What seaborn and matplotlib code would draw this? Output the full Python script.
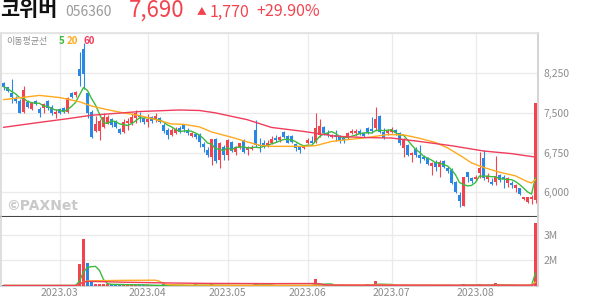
import numpy as np
import pandas as pd
import matplotlib
matplotlib.use("Agg")
import matplotlib.pyplot as plt
import seaborn as sns

# ---------------- data ----------------
opens = [8070, 7980, 7870, 7790, 7730, 7520, 7710, 7565, 7730, 7565,
         7585, 7720, 7615, 7480, 7565, 7585, 7525, 7870, 7835, 8330,
         8700, 7880, 7520, 7165, 7155, 7240, 7300, 7380, 7335, 7190,
         7145, 7300, 7300, 7395, 7460, 7395, 7335, 7430, 7365, 7395,
         7270, 7175, 7080, 7125, 7215, 7265, 7175, 7065, 7100, 7080,
         6905, 6800, 6670, 7005, 6610, 6860, 6705, 6955, 6765, 6850,
         6985, 6800, 6810, 7175, 6890, 6925, 6875, 6935, 7020, 6985,
         7145, 7065, 7065, 6910, 6850, 6830, 6935, 6975, 6955, 7080,
         7240, 7125, 7035, 7080, 7065, 7020, 7035, 7125, 7125, 7150,
         7115, 7210, 7190, 7210, 7440, 7145, 7115, 7145, 7175, 7115,
         6830, 6890, 6705, 6810, 6705, 6670, 6655, 6495, 6580, 6470,
         6590, 6450, 6420, 6200, 5950, 5745, 6375, 6265, 6255, 6355,
         6640, 6245, 6200, 6200, 6325, 6295, 6180, 6180, 6075, 6075,
         5865, 5820, 5865, 5850]
highs = [8090, 7995, 8140, 7820, 7755, 8010, 7745, 7710, 7745, 7615,
         7695, 7745, 7650, 7565, 7585, 7605, 7795, 7890, 7920, 8655,
         8815, 7900, 7555, 7450, 7380, 7490, 7460, 7395, 7365, 7210,
         7380, 7395, 7490, 7555, 7525, 7430, 7480, 7440, 7490, 7415,
         7300, 7210, 7210, 7240, 7250, 7290, 7210, 7145, 7125, 7115,
         6955, 6850, 7005, 7020, 6955, 6890, 7005, 6970, 6875, 6935,
         7000, 6875, 6890, 7365, 7020, 6985, 6985, 7065, 7080, 7065,
         7155, 7075, 7075, 6925, 6860, 6890, 7020, 7065, 7505, 7380,
         7250, 7175, 7100, 7175, 7080, 7050, 7145, 7190, 7190, 7190,
         7145, 7240, 7430, 7605, 7460, 7210, 7190, 7225, 7190, 7145,
         7020, 6905, 6765, 6850, 6890, 6705, 6670, 6575, 6610, 6610,
         6610, 6495, 6450, 6215, 6010, 6295, 6390, 6295, 6325, 6765,
         6800, 6370, 6265, 6685, 6345, 6325, 6295, 6220, 6155, 6090,
         5915, 5915, 5950, 7690]
lows = [7930, 7900, 7680, 7690, 7490, 7505, 7600, 7555, 7650, 7430,
        7505, 7555, 7460, 7395, 7470, 7505, 7505, 7775, 7805, 8000,
        7950, 7400, 7020, 7145, 6985, 7210, 7290, 7240, 7210, 7100,
        7125, 7175, 7270, 7300, 7335, 7290, 7240, 7315, 7335, 7300,
        7125, 7000, 7065, 7100, 7125, 7145, 7080, 7035, 7000, 6860,
        6765, 6670, 6515, 6545, 6450, 6610, 6610, 6765, 6705, 6810,
        6735, 6705, 6800, 6860, 6765, 6830, 6850, 6910, 6955, 6955,
        7020, 6925, 6925, 6785, 6750, 6810, 6910, 6925, 6925, 7035,
        7080, 7035, 7020, 6975, 6925, 6935, 7015, 7100, 7060, 7080,
        7050, 7100, 7126, 7175, 7120, 7000, 7080, 7115, 7080, 6890,
        6670, 6685, 6580, 6670, 6545, 6610, 6515, 6325, 6405, 6295,
        6450, 6355, 6155, 5990, 5715, 5745, 6200, 6170, 6220, 6265,
        6230, 6200, 6135, 6135, 6200, 6090, 6105, 6075, 6010, 5945,
        5855, 5790, 5780, 5800]
closes = [7995, 7920, 7805, 7725, 7505, 7930, 7615, 7695, 7665, 7505,
          7665, 7590, 7490, 7525, 7490, 7525, 7775, 7795, 7900, 8200,
          8230, 7490, 7040, 7285, 7345, 7415, 7415, 7270, 7240, 7125,
          7335, 7345, 7430, 7505, 7415, 7320, 7380, 7345, 7440, 7335,
          7155, 7080, 7175, 7195, 7145, 7190, 7115, 7115, 7035, 6955,
          6850, 6705, 7005, 6595, 6925, 6705, 6985, 6785, 6850, 6925,
          6765, 6850, 6830, 6890, 6875, 6890, 6925, 7005, 6985, 7035,
          7035, 6935, 6955, 6830, 6800, 6875, 6985, 6935, 7210, 7250,
          7125, 7080, 7065, 7035, 6985, 6985, 7115, 7165, 7160, 7105,
          7060, 7125, 7150, 7380, 7145, 7020, 7165, 7195, 7115, 6925,
          7000, 6705, 6735, 6705, 6640, 6620, 6535, 6545, 6470, 6580,
          6485, 6405, 6180, 6010, 5840, 6295, 6280, 6220, 6295, 6450,
          6265, 6305, 6155, 6305, 6240, 6245, 6265, 6135, 6135, 5960,
          5905, 5905, 5920, 7690]
volumes_m = [1.02] * 134
for _i, _v in {19: 1.86, 20: 2.83, 21: 1.88, 22: 1.17, 23: 1.07, 24: 1.07,
               25: 1.07, 26: 1.06, 27: 1.06, 28: 1.05, 29: 1.05, 30: 1.05,
               31: 1.05, 32: 1.05, 33: 1.05, 34: 1.04, 35: 1.04, 40: 1.06,
               41: 1.05, 48: 1.07, 52: 1.06, 63: 1.12, 78: 1.27, 81: 1.06,
               91: 1.06, 93: 1.20, 94: 1.05, 114: 1.05, 115: 1.06,
               119: 1.06, 120: 1.05, 123: 1.10, 133: 3.44}.items():
    volumes_m[_i] = _v
volumes = [v * 1e6 for v in volumes_m]

# moving averages that start before the visible window
ma20_idx = [0, 9, 14, 19, 22, 26, 30, 34, 38, 42, 45, 49, 52, 57, 61, 64,
            67, 75, 78, 82, 86, 90, 96, 100, 104, 108, 111, 115, 117, 120,
            124, 128, 131, 132, 133]
ma20_val = [7750, 7830, 7790, 7710, 7630, 7560, 7500, 7450, 7375, 7290,
            7285, 7235, 7140, 7040, 6950, 6890, 6868, 6868, 6880, 6960,
            6995, 7025, 7090, 7085, 7020, 6940, 6840, 6655, 6555, 6470,
            6380, 6310, 6200, 6175, 6245]
ma60_idx = [0, 8, 16, 22, 28, 34, 44, 49, 53, 61, 67, 75, 83, 90, 97, 104,
            112, 120, 127, 133]
ma60_val = [7227, 7310, 7390, 7455, 7490, 7525, 7555, 7545, 7500, 7370,
            7225, 7150, 7060, 7035, 7025, 6960, 6880, 6780, 6730, 6665]

month_idx = [14, 36, 56, 76, 97, 118]
month_labels = ["2023.03", "2023.04", "2023.05", "2023.06", "2023.07", "2023.08"]
price_ticks = [6000, 6750, 7500, 8250]
vol_ticks = [2e6, 3e6]
vol_tick_labels = ["2M", "3M"]

# ---------------- styling ----------------
sns.set_theme(style="white")
plt.rcParams["font.family"] = ["Noto Sans CJK KR", "DejaVu Sans"]

RED = "#F2444F"
BLUE = "#2A87E3"
GREEN = "#3CBB3C"
ORANGE = "#FFA91F"
PINK = "#F03D5C"
GRID = "#EBEBEB"
GRAY_TXT = "#8C8C8C"

W, H = 594, 304
fig = plt.figure(figsize=(W / 100, H / 100), dpi=100)
fig.patch.set_facecolor("white")


def fx(px):
    return px / W


def fy(py):
    return 1 - py / H


ax = fig.add_axes([fx(1), fy(217), (538 - 1) / W, (217 - 33) / H])
axv = fig.add_axes([fx(1), fy(286), (538 - 1) / W, (286 - 217) / H], sharex=ax)

df = pd.DataFrame({"o": opens, "h": highs, "l": lows, "c": closes, "v": volumes})
df["i"] = np.arange(len(df))
df["ma5"] = df["c"].rolling(5, min_periods=1).mean()
up = df["c"] >= df["o"]
ccol = np.where(up, RED, BLUE)

# grid
for a in (ax, axv):
    a.set_xticks(month_idx)
    a.grid(True, axis="both", color=GRID, linewidth=1.0)
    a.set_axisbelow(True)

# candles
ax.vlines(df["i"], df["l"], df["h"], colors=ccol, linewidth=0.8, zorder=2)
body_h = np.maximum((df["c"] - df["o"]).abs(), 14)
ax.bar(df["i"], body_h, bottom=np.minimum(df["o"], df["c"]), width=0.78,
       color=ccol, linewidth=0, zorder=3)

# moving averages
sns.lineplot(x=df["i"], y=df["ma5"], ax=ax, color=GREEN, linewidth=1.0, zorder=4)
sns.lineplot(x=ma20_idx, y=ma20_val, ax=ax, color=ORANGE, linewidth=1.0, zorder=4)
sns.lineplot(x=ma60_idx, y=ma60_val, ax=ax, color=PINK, linewidth=1.0, zorder=4)

ax.set_xlim(-0.625, 133.625)
ax.set_ylim(5533, 9009)
ax.set_yticks(price_ticks + [9000])
ax.yaxis.tick_right()
ax.set_yticklabels([f"{t:,}" for t in price_ticks] + [""])
ax.tick_params(axis="y", length=0, pad=4, labelsize=7.5, labelcolor=GRAY_TXT)
ax.tick_params(axis="x", length=0, labelbottom=False)
ax.set_xlabel("")
ax.set_ylabel("")

# volume
prev = df["c"].shift(1).fillna(df["o"])
vcol = np.where(df["c"] >= prev, RED, BLUE)
axv.bar(df["i"], df["v"] - 1e6, bottom=1e6, width=0.78, color=vcol,
        linewidth=0, zorder=3)
for w, colr in ((5, GREEN), (20, ORANGE), (60, PINK)):
    sns.lineplot(x=df["i"], y=df["v"].rolling(w, min_periods=1).mean(), ax=axv,
                 color=colr, linewidth=1.0, zorder=4)
axv.set_ylim(1.0e6, 1.0e6 + 69 / 25.7 * 1e6)
axv.set_yticks(vol_ticks)
axv.yaxis.tick_right()
axv.set_yticklabels(vol_tick_labels)
axv.tick_params(axis="y", length=0, pad=4, labelsize=7.5, labelcolor=GRAY_TXT)
axv.set_xticklabels(month_labels)
axv.tick_params(axis="x", length=0, pad=1.5, labelsize=7.5, labelcolor=GRAY_TXT)
axv.set_xlabel("")
axv.set_ylabel("")

# spines
for a in (ax, axv):
    a.spines["left"].set_color("#DADADA")
    a.spines["right"].set_color("#D5D5D5")
    a.spines["right"].set_linewidth(1.5)
ax.spines["top"].set_color("#E2E2E2")
ax.spines["bottom"].set_color("#444444")
ax.spines["bottom"].set_linewidth(1.5)
axv.spines["top"].set_visible(False)
axv.spines["bottom"].set_color("#CFCFCF")

# header texts
fig.text(fx(0), fy(10), "코위버", fontsize=15, fontweight="bold", color="#111111",
         va="center", ha="left")
fig.text(fx(65), fy(11.5), "056360", fontsize=10, color="#9A9A9A", va="center", ha="left")
fig.text(fx(129), fy(10), "7,690", fontsize=16, color=RED, va="center", ha="left")
fig.text(fx(197), fy(11.5), "▲", fontsize=7, color=RED, va="center", ha="left")
fig.text(fx(210), fy(12), "1,770", fontsize=11.5, color=RED, va="center", ha="left")
fig.text(fx(256), fy(12), "+29.90%", fontsize=11.5, color=RED, va="center", ha="left")

# MA legend
fig.text(fx(6), fy(41.5), "이동평균선", fontsize=6.5, color=GRAY_TXT, va="center", ha="left")
fig.text(fx(59), fy(41.5), "5", fontsize=7, color=GREEN, fontweight="bold", va="center", ha="left")
fig.text(fx(67), fy(41.5), "20", fontsize=7, color=ORANGE, fontweight="bold", va="center", ha="left")
fig.text(fx(83), fy(41.5), "60", fontsize=7, color=PINK, fontweight="bold", va="center", ha="left")

# watermark
fig.text(fx(6), fy(206), "©PAXNet", fontsize=10, color="#C9C9C9", fontweight="bold",
         va="center", ha="left", family=["DejaVu Sans"])

fig.savefig("out.png", dpi=100, facecolor="white")
